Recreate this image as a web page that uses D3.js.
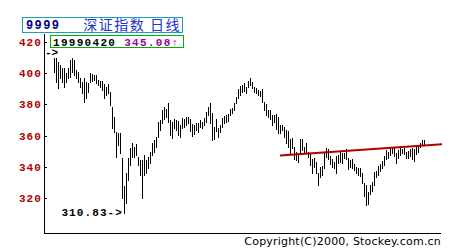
<!DOCTYPE html>
<html>
<head>
<meta charset="utf-8">
<script src="https://cdn.jsdelivr.net/npm/d3@7"></script>
<style>
    body { margin: 0; background: #fff; }
    .tick text, .mono { font-family: "Liberation Mono", "DejaVu Sans Mono", monospace; font-weight: bold; }
</style>
</head>
<body>
<div id="chart"></div>
<script>
// daily highs / lows, Shenzhen index, one bar per trading day
var highs = [
    409.8, 409.4, 407.3, 405.2, 403.1, 403.1, 399.9, 403.1, 408.4, 409.4,
    408.4, 402.0, 400.9, 396.7, 394.5, 396.7, 394.5, 393.5, 399.9, 399.2,
    398.8, 398.8, 395.6, 394.9, 394.9, 392.8, 391.3, 392.8, 388.1, 378.5,
    372.1, 362.6, 361.5, 361.5, 345.7, 327.9, 336.2, 345.7, 352.1, 355.3,
    352.8, 354.7, 346.4, 344.5, 344.5, 347.7, 344.5, 346.4, 349.6, 355.3,
    357.2, 359.2, 368.7, 370.0, 376.4, 378.3, 377.1, 380.9, 370.0, 368.7,
    370.7, 370.0, 369.4, 366.8, 371.3, 370.7, 371.9, 371.9, 370.7, 367.5,
    366.8, 368.1, 368.1, 370.0, 368.7, 371.3, 375.1, 378.3, 380.9, 374.5,
    365.5, 370.7, 364.9, 366.8, 371.3, 372.6, 373.2, 373.9, 377.1, 377.7,
    380.9, 384.7, 389.8, 391.7, 392.4, 393.7, 391.1, 394.9, 396.9, 394.3,
    391.1, 390.5, 389.2, 388.6, 389.8, 381.5, 380.2, 376.4, 376.4, 373.2,
    373.2, 373.9, 371.9, 366.8, 366.8, 365.5, 363.6, 363.0, 357.9, 358.5,
    352.8, 349.6, 348.9, 357.9, 357.9, 352.8, 355.3, 349.6, 348.9, 345.1,
    345.7, 343.2, 336.2, 340.0, 340.6, 348.9, 352.1, 351.5, 347.0, 345.1,
    343.2, 347.0, 347.7, 349.6, 348.9, 348.9, 351.5, 345.7, 344.5, 345.1,
    341.9, 340.0, 339.4, 339.4, 336.2, 329.8, 328.5, 324.0, 328.5, 330.4,
    336.8, 337.4, 340.6, 341.9, 343.8, 347.0, 350.9, 349.6, 352.1, 352.1,
    352.1, 348.9, 350.9, 352.1, 351.5, 352.1, 349.6, 350.2, 351.5, 352.1,
    351.5, 352.8, 353.4, 355.3, 357.2, 357.2
];
var lows = [
    400.9, 394.5, 390.7, 396.7, 394.5, 391.3, 394.5, 396.7, 397.7, 400.9,
    398.8, 396.7, 394.5, 391.3, 387.1, 381.3, 383.9, 388.1, 394.5, 394.9,
    395.6, 393.5, 392.4, 391.3, 389.2, 383.9, 386.0, 387.1, 379.6, 364.7,
    362.2, 346.6, 354.0, 348.7, 320.2, 310.83, 317.0, 331.7, 341.3, 346.4,
    346.4, 347.7, 341.3, 334.9, 320.2, 334.9, 336.2, 339.4, 342.5, 347.7,
    349.6, 352.8, 359.2, 363.6, 368.1, 370.7, 371.9, 368.7, 360.4, 358.5,
    364.9, 363.6, 360.4, 359.2, 364.9, 365.5, 366.8, 368.1, 363.0, 359.8,
    361.1, 363.6, 362.4, 365.5, 364.9, 366.8, 368.7, 373.2, 368.1, 357.2,
    357.9, 363.0, 359.2, 362.4, 365.5, 368.1, 368.7, 369.4, 373.2, 374.5,
    376.4, 380.9, 384.1, 386.0, 387.9, 388.6, 387.3, 391.1, 392.4, 390.5,
    387.9, 387.3, 386.0, 385.4, 381.5, 376.4, 373.2, 371.9, 370.7, 366.8,
    368.7, 364.3, 361.7, 361.7, 363.6, 359.2, 355.3, 352.8, 348.9, 352.1,
    345.1, 344.5, 343.2, 348.9, 350.9, 348.9, 348.9, 346.4, 341.3, 336.2,
    340.0, 336.2, 328.5, 333.6, 334.9, 339.4, 346.4, 345.1, 341.9, 340.0,
    339.4, 336.2, 342.5, 343.2, 342.5, 345.7, 345.1, 338.7, 340.0, 339.4,
    338.1, 336.2, 334.9, 334.2, 329.8, 321.5, 315.7, 316.4, 322.7, 324.7,
    328.5, 333.6, 334.9, 337.4, 339.4, 341.3, 345.1, 345.7, 347.7, 348.9,
    347.0, 342.5, 345.7, 347.7, 348.9, 348.3, 345.7, 345.7, 347.0, 345.1,
    343.8, 348.3, 349.6, 352.8, 354.0, 354.0
];
var yTicks = [320, 340, 360, 380, 400, 420];
// hand drawn trend line: [day index, value]
var trendLine = [[113, 347.3], [194, 354.5]];
var code = "9999", title = "深证指数 日线";
var curDate = "19990420", curClose = "345.08";
var lowLabel = "310.83->";
var copyright = "Copyright(C)2000, Stockey.com.cn";

var width = 450, height = 250;
var svg = d3.select("#chart").append("svg")
    .attr("width", width).attr("height", height);

var x = d3.scaleLinear().domain([0, 194]).range([54, 442]);
var y = d3.scaleLinear().domain([297.8, 425.6]).range([233, 33]);

var red = "#b00000";

// axes
var yAxis = d3.axisLeft(y).tickValues(yTicks).tickSizeInner(-3).tickSizeOuter(0).tickPadding(2);
var ag = svg.append("g").attr("transform", "translate(44,0)").call(yAxis);
ag.select(".domain").attr("stroke", "#000").attr("shape-rendering", "crispEdges");
ag.selectAll(".tick line").attr("stroke", "#000").attr("shape-rendering", "crispEdges");
ag.selectAll(".tick text").attr("fill", red).attr("font-size", 11)
    .attr("letter-spacing", 1.1);

svg.append("line").attr("x1", 44).attr("x2", 441).attr("y1", 233.5).attr("y2", 233.5)
    .attr("stroke", "#000").attr("shape-rendering", "crispEdges");

// high-low bars
svg.append("g").selectAll("line")
    .data(highs)
    .enter().append("line")
    .attr("x1", function (d, i) { return Math.round(x(i)) + 0.5; })
    .attr("x2", function (d, i) { return Math.round(x(i)) + 0.5; })
    .attr("y1", function (d) { return Math.round(y(d)); })
    .attr("y2", function (d, i) { return Math.round(y(lows[i])) + 1; })
    .attr("stroke", "#000")
    .attr("shape-rendering", "crispEdges");

// trend line
svg.append("path")
    .attr("d", d3.line().x(function (d) { return x(d[0]); }).y(function (d) { return y(d[1]); })(trendLine))
    .attr("stroke", red).attr("stroke-width", 2).attr("fill", "none");

// low marker
var lowIdx = d3.minIndex(lows);
svg.append("text").attr("class", "mono")
    .attr("x", x(lowIdx) - 1).attr("y", y(lows[lowIdx]))
    .attr("dy", "0.35em").attr("text-anchor", "end")
    .attr("font-size", 11).attr("letter-spacing", 1.1)
    .text(lowLabel);

// high marker (value part is cut off by the axis)
svg.append("text").attr("class", "mono")
    .attr("x", 45).attr("y", y(d3.max(highs)) - 6)
    .attr("dy", "0.35em").attr("font-size", 11)
    .text("->");

// title box
svg.append("rect").attr("x", 22.5).attr("y", 17.5).attr("width", 160).attr("height", 15)
    .attr("fill", "#fff").attr("stroke", "#1aa0b4");
svg.append("text").attr("class", "mono").attr("x", 26).attr("y", 29)
    .attr("font-size", 12).attr("fill", "#00008c").attr("letter-spacing", 1.4).text(code);
svg.append("text").attr("x", 181).attr("y", 30).attr("text-anchor", "end")
    .attr("font-family", "Noto Sans CJK SC").attr("font-size", 14).attr("letter-spacing", 1.5)
    .attr("fill", "#2233cc").text(title);

// current value box
svg.append("rect").attr("x", 50.5).attr("y", 35.5).attr("width", 133).attr("height", 12)
    .attr("fill", "#fff").attr("stroke", "#00b000");
var cv = svg.append("text").attr("class", "mono").attr("x", 53).attr("y", 45.5)
    .attr("font-size", 11).attr("letter-spacing", 1.3);
cv.append("tspan").attr("fill", "#000").text(curDate + " ");
cv.append("tspan").attr("fill", "#a000a0").text(curClose + "↑");

// copyright
svg.append("text").attr("x", 441).attr("y", 245).attr("text-anchor", "end")
    .attr("font-family", "DejaVu Sans").attr("font-size", 11).attr("letter-spacing", 0.2)
    .text(copyright);
</script>
</body>
</html>
